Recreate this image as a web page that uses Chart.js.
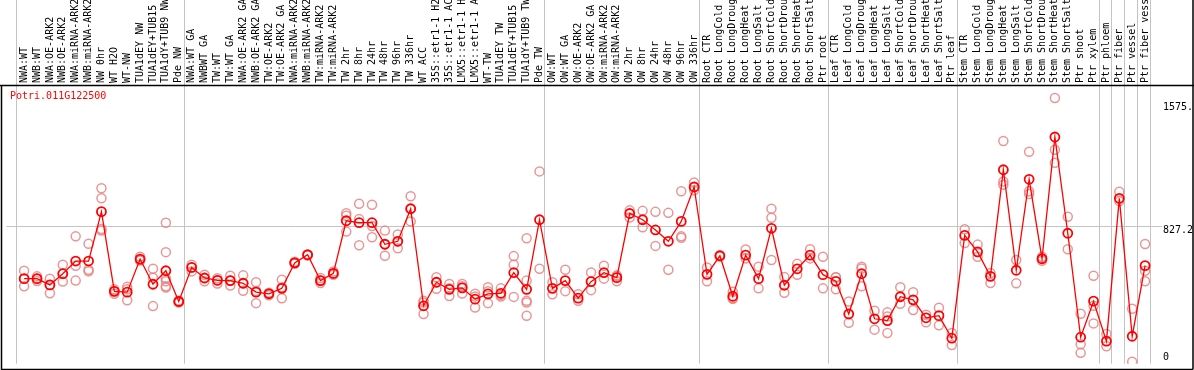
<!DOCTYPE html>
<html>
<head>
<meta charset="utf-8">
<script src="https://cdn.jsdelivr.net/npm/chart.js@4.4.1/dist/chart.umd.min.js"></script>
<style>
  html, body { margin: 0; padding: 0; background: #fff; }
  #chart { display: block; }
</style>
</head>
<body>
<canvas id="chart" width="1194" height="370"></canvas>
<script>
var geneName = 'Potri.011G122500';

var categories = [
  'NWA:WT', 'NWB:WT', 'NWA:OE-ARK2', 'NWB:OE-ARK2', 'NWA:miRNA-ARK2', 'NWB:miRNA-ARK2',
  'NW 0hr', 'WT H2O', 'WT-NW', 'TUA1dEY NW', 'TUA1dEY+TUB15 NW', 'TUA1dY+TUB9 NW', 'Pde NW',
  'NWA:WT GA', 'NWBWT GA', 'TW:WT', 'TW:WT GA', 'NWA:OE-ARK2 GA', 'NWB:OE-ARK2 GA',
  'TW:OE-ARK2', 'TW:OE-ARK2 GA', 'NWA:miRNA-ARK2 GA', 'NWB:miRNA-ARK2 GA', 'TW:miRNA-ARK2',
  'TW:miRNA-ARK2 GA', 'TW 2hr', 'TW 8hr', 'TW 24hr', 'TW 48hr', 'TW 96hr', 'TW 336hr', 'WT ACC',
  '35S::etr1-1 H2O', '35S::etr1-1 ACC', 'LMX5::etr1-1 H2O', 'LMX5::etr1-1 ACC', 'WT-TW',
  'TUA1dEY TW', 'TUA1dEY+TUB15 TW', 'TUA1dY+TUB9 TW', 'Pde TW',
  'OW:WT', 'OW:WT GA', 'OW:OE-ARK2', 'OW:OE-ARK2 GA', 'OW:miRNA-ARK2', 'OW:miRNA-ARK2 GA',
  'OW 2hr', 'OW 8hr', 'OW 24hr', 'OW 48hr', 'OW 96hr', 'OW 336hr',
  'Root CTR', 'Root LongCold', 'Root LongDrought', 'Root LongHeat', 'Root LongSalt',
  'Root ShortCold', 'Root ShortDrought', 'Root ShortHeat', 'Root ShortSalt', 'Ptr root',
  'Leaf CTR', 'Leaf LongCold', 'Leaf LongDrought', 'Leaf LongHeat', 'Leaf LongSalt',
  'Leaf ShortCold', 'Leaf ShortDrought', 'Leaf ShortHeat', 'Leaf ShortSalt', 'Ptr leaf',
  'Stem CTR', 'Stem LongCold', 'Stem LongDrought', 'Stem LongHeat', 'Stem LongSalt',
  'Stem ShortCold', 'Stem ShortDrought', 'Stem ShortHeat', 'Stem ShortSalt', 'Ptr shoot',
  'Ptr xylem', 'Ptr phloem', 'Ptr fiber', 'Ptr vessel', 'Ptr fiber vessel'
];

// mean expression per sample (red line)
var meanValues = [
  505, 505, 467, 535, 612, 612, 912, 428, 423, 624, 471, 553, 366,
  573, 509, 495, 493, 477, 423, 413, 446, 601, 650, 493, 537, 857, 845, 845, 714, 732, 930,
  340, 483, 440, 449, 380, 412, 416, 541, 440, 863,
  446, 493, 386, 487, 541, 511, 901, 863, 801, 732, 853, 1062,
  531, 644, 398, 648, 505, 811, 465, 565, 648, 529,
  489, 290, 535, 261, 250, 395, 376, 267, 280, 143,
  768, 668, 519, 1167, 556, 1109, 626, 1366, 781, 149,
  368, 125, 993, 155, 584
];

// single replicates per sample (pale circles)
var replicates = [
  [553, 459, 505], [519, 491, 505], [505, 416, 467], [589, 487, 535], [762, 583, 493],
  [717, 559, 550], [1054, 994, 807, 797], [440, 413, 428], [455, 374, 440], [638, 618, 615],
  [565, 511, 338], [845, 666, 507, 489, 459, 451], [360, 366, 372],
  [589, 549, 573], [529, 489, 509], [507, 475, 495], [523, 463, 493], [525, 431, 477],
  [483, 356, 430], [404, 419, 416], [499, 386, 453], [608, 601, 595], [654, 650, 646],
  [509, 479, 493], [549, 529, 537], [902, 887, 791], [960, 867, 708], [954, 757, 825],
  [797, 644, 714], [774, 690, 732], [1006, 853, 930],
  [360, 290, 370], [513, 443, 483], [473, 400, 447], [473, 459, 415], [413, 330, 397],
  [453, 356, 429], [446, 406, 396], [642, 589, 394], [751, 493, 370, 360, 279], [1157, 565],
  [483, 410], [559, 429], [410, 370], [543, 435], [583, 505], [519, 489, 525],
  [920, 877], [917, 817], [911, 704], [905, 559], [1036, 762, 753], [1090, 1042],
  [573, 489], [648, 644, 640], [425, 386, 383], [682, 628], [578, 446], [930, 875, 618],
  [515, 419], [595, 529], [684, 628], [638, 446],
  [513, 440, 513], [366, 237], [578, 566, 459], [310, 195], [300, 175, 275], [453, 352],
  [423, 314], [286, 240], [328, 221], [175, 101],
  [805, 722], [712, 638], [539, 479], [1342, 1096, 1075], [618, 477], [1276, 1036, 1020],
  [638, 626, 614], [1603, 1288, 1209], [881, 684], [292, 106, 54],
  [523, 340, 233], [169, 94], [1033, 976], [322, 0], [716, 553, 489]
];

// sample index after which a group separator is drawn
var groupEnds = [-1, 12, 40, 52, 62, 72, 83, 84, 85, 86, 87];

var yTickValues = [0, 827.2, 1575];
var yTickLabels = ['0', '827.2', '1575.'];

var meanPoints = meanValues.map(function(v, i) {
  return {x: i, y: v};
});
var repPoints = [];
replicates.forEach(function(list, i) {
  list.forEach(function(v) {
    repPoints.push({x: i, y: v});
  });
});

var monoFont = '10px "DejaVu Sans Mono", monospace';

var framePlugin = {
  id: 'frame',
  beforeDatasetsDraw: function(chart) {
    var ctx = chart.ctx;
    var xs = chart.scales.x, ys = chart.scales.y;
    var area = chart.chartArea;
    ctx.save();
    ctx.strokeStyle = '#c4c4c4';
    ctx.lineWidth = 1;
    // group separators, running up through the label strip
    groupEnds.forEach(function(i) {
      var x = Math.round(xs.getPixelForValue(i + 5 / 13)) + 0.5;
      ctx.beginPath();
      ctx.moveTo(x, 0);
      ctx.lineTo(x, area.bottom);
      ctx.stroke();
    });
    // middle grid line
    var gy = Math.round(ys.getPixelForValue(yTickValues[1])) + 0.5;
    ctx.beginPath();
    ctx.moveTo(area.left, gy);
    ctx.lineTo(1162, gy);
    ctx.stroke();
    ctx.restore();
  },
  afterDatasetsDraw: function(chart) {
    var ctx = chart.ctx;
    var xs = chart.scales.x, ys = chart.scales.y;
    var area = chart.chartArea;
    ctx.save();
    // frame
    ctx.strokeStyle = '#000';
    ctx.lineWidth = 1.5;
    ctx.beginPath();
    ctx.moveTo(0, 85.5);
    ctx.lineTo(1194, 85.5);
    ctx.moveTo(1.5, 85.5);
    ctx.lineTo(1.5, 369.5);
    ctx.lineTo(1193, 369.5);
    ctx.moveTo(1193, 0);
    ctx.lineTo(1193, 369.5);
    ctx.stroke();

    // rotated sample names
    ctx.fillStyle = '#000';
    ctx.font = monoFont;
    ctx.textAlign = 'left';
    ctx.textBaseline = 'middle';
    categories.forEach(function(name, i) {
      var x = xs.getPixelForValue(i);
      ctx.save();
      ctx.translate(x, 83);
      ctx.rotate(-Math.PI / 2);
      ctx.fillText(name, 0, 0);
      ctx.restore();
    });

    // value labels on the right, inside the plot
    ctx.textBaseline = 'top';
    yTickValues.forEach(function(v, k) {
      var y = Math.min(ys.getPixelForValue(v), area.bottom - 11);
      ctx.fillText(yTickLabels[k], 1163, y);
    });

    // gene name
    ctx.fillStyle = '#ff0000';
    ctx.fillText(geneName, 10, 91);
    ctx.restore();
  }
};

var ctx = document.getElementById('chart').getContext('2d');
var chart = new Chart(ctx, {
  type: 'line',
  data: {
    datasets: [
      {
        label: geneName,
        data: meanPoints,
        borderColor: '#ff0000',
        borderWidth: 1.3,
        pointRadius: 4.5,
        pointBorderWidth: 1.8,
        pointBorderColor: '#ff0000',
        pointBackgroundColor: 'rgba(0,0,0,0)',
        fill: false,
        tension: 0,
        order: 0
      },
      {
        label: 'replicates',
        data: repPoints,
        showLine: false,
        pointRadius: 4.5,
        pointBorderWidth: 1.5,
        pointBorderColor: 'rgba(232,130,130,0.85)',
        pointBackgroundColor: 'rgba(0,0,0,0)',
        order: 1
      }
    ]
  },
  options: {
    responsive: false,
    animation: false,
    layout: {padding: {left: 1, top: 86, right: 1, bottom: 1}},
    plugins: {
      legend: {display: false},
      tooltip: {enabled: false}
    },
    scales: {
      x: {type: 'linear', min: -18 / 13, max: 1174 / 13, display: false},
      y: {type: 'linear', min: -12, max: 1676, display: false}
    }
  },
  plugins: [framePlugin]
});
</script>
</body>
</html>
